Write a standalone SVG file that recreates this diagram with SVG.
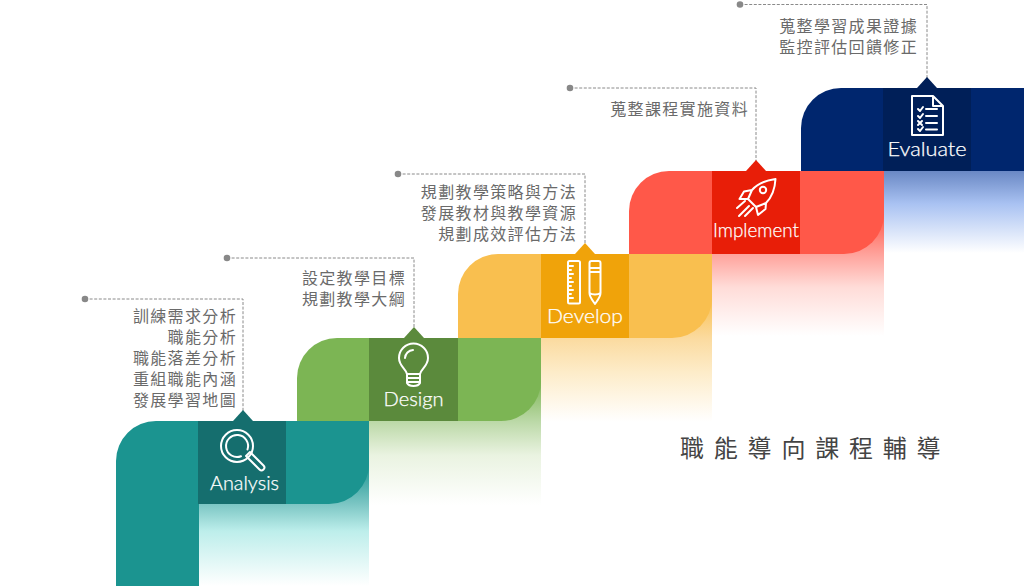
<svg xmlns="http://www.w3.org/2000/svg" width="1024" height="586" viewBox="0 0 1024 586">
<style>
.t{font-family:"Noto Sans CJK TC","Noto Sans CJK SC",sans-serif;font-size:16px;font-weight:400;letter-spacing:1.35px;fill:#6a6a6a;text-anchor:end}
.l{font-family:"Lato","Open Sans",sans-serif;font-size:19px;font-weight:300;fill:#fff;stroke:#fff;stroke-width:.25;text-anchor:middle}
.d{fill:none;stroke:#8a8a8a;stroke-width:1;stroke-dasharray:3 1.6}
.i{fill:none;stroke:#fff;stroke-width:2;stroke-linecap:round;stroke-linejoin:round}
.title{font-family:"Noto Sans CJK TC","Noto Sans CJK SC",sans-serif;font-size:24px;letter-spacing:9.8px;fill:#444}
</style>
<defs>
<linearGradient id="gt" x1="0" y1="0" x2="0" y2="1"><stop offset="0" stop-color="#1b9490"/><stop offset=".33" stop-color="#7cc6c4"/><stop offset=".55" stop-color="#bdeeeb"/><stop offset="1" stop-color="#fff"/></linearGradient>
<linearGradient id="gg" x1="0" y1="0" x2="0" y2="1"><stop offset="0" stop-color="#7cb554"/><stop offset=".33" stop-color="#bcd9a8"/><stop offset=".6" stop-color="#eaf3e1"/><stop offset="1" stop-color="#fff"/></linearGradient>
<linearGradient id="gy" x1="0" y1="0" x2="0" y2="1"><stop offset="0" stop-color="#f9bf4f"/><stop offset=".33" stop-color="#fbdba0"/><stop offset=".6" stop-color="#fdecc9"/><stop offset="1" stop-color="#fff"/></linearGradient>
<linearGradient id="gr" x1="0" y1="0" x2="0" y2="1"><stop offset="0" stop-color="#ff5849"/><stop offset=".33" stop-color="#ffa29b"/><stop offset=".6" stop-color="#ffdcd8"/><stop offset="1" stop-color="#fff"/></linearGradient>
<linearGradient id="gb" x1="0" y1="0" x2="0" y2="1"><stop offset="0" stop-color="#6a88c4"/><stop offset=".4" stop-color="#a9c2f2"/><stop offset="1" stop-color="#fff"/></linearGradient>
</defs>
<rect width="1024" height="586" fill="#fff"/>

<g id="connectors">
<path class="d" d="M85 299H243V412"/>
<path class="d" d="M227 258H414V329"/>
<path class="d" d="M398 174H585V245"/>
<path class="d" d="M570 88H756V162"/>
<path class="d" d="M740 4.500H927V79"/>
<circle cx="85" cy="299" r="3.300" fill="#888"/>
<circle cx="227" cy="258" r="3.300" fill="#888"/>
<circle cx="398" cy="174" r="3.300" fill="#888"/>
<circle cx="570" cy="88" r="3.300" fill="#888"/>
<circle cx="740" cy="4.500" r="3.300" fill="#888"/>
</g>

<g id="fades">
<rect x="199" y="464" width="170" height="122" fill="url(#gt)"/>
<rect x="369" y="381" width="172" height="124" fill="url(#gg)"/>
<rect x="541" y="298" width="171" height="124" fill="url(#gy)"/>
<rect x="712" y="214" width="172" height="122" fill="url(#gr)"/>
<rect x="884" y="171" width="140" height="82" fill="url(#gb)"/>
</g>

<g id="node-evaluate">
<path d="M841 88H1024V171H801V128A40 40 0 0 1 841 88Z" fill="#00266e"/>
<rect x="883" y="88" width="88" height="83" fill="#001f58"/>
<path d="M917 88L927 77L937 88Z" fill="#001f58"/>
<path class="i" d="M912 96H933L943 106V135H912ZM933 96V106H943"/>
<path class="i" d="M918 109L920 111L923 107M926 109H937M918 116L920 118L923 114M926 116H937M918 121L922 125M922 121L918 125M926 123H937M918 129L920 131L923 127M926 129.500H937"/>
<text class="l" x="927" y="156" textLength="79" lengthAdjust="spacingAndGlyphs">Evaluate</text>
<text class="t"><tspan x="918" y="32">蒐整學習成果證據</tspan><tspan x="918" y="53">監控評估回饋修正</tspan></text>
</g>

<g id="node-implement">
<path d="M669 171H884V214A40 40 0 0 1 844 254H629V211A40 40 0 0 1 669 171Z" fill="#ff5849"/>
<rect x="712" y="171" width="88" height="83" fill="#e81e08"/>
<path d="M746 171L756 160L766 171Z" fill="#e81e08"/>
<path class="i" d="M775.500 179C768 180 758 183 752 190L748 199L756 207L766 203C772 197 775 188 775.500 179ZM752 190L744 191.500L739.500 199L748 199M766 203L765.500 209L758 215L756 207"/>
<circle class="i" cx="763" cy="190" r="3.200"/>
<path class="i" d="M737 208L745 201M739 216L749 206M745 216L753 208"/>
<text class="l" x="756" y="237" textLength="86" lengthAdjust="spacingAndGlyphs">Implement</text>
<text class="t" x="749" y="115">蒐整課程實施資料</text>
</g>

<g id="node-develop">
<path d="M498 254H712V298A40 40 0 0 1 672 338H458V294A40 40 0 0 1 498 254Z" fill="#f9bf4f"/>
<rect x="541" y="254" width="88" height="84" fill="#f0a30a"/>
<path d="M575 254L585 243L595 254Z" fill="#f0a30a"/>
<rect class="i" x="568" y="261" width="12" height="42.500" rx="1.500"/>
<path class="i" stroke-width="1.300" d="M568 266H573M568 270H571M568 274H573M568 278H571M568 282H573M568 286H571M568 290H573M568 294H571M568 298H573"/>
<path class="i" d="M589.500 263A2 2 0 0 1 591.500 261H598.500A2 2 0 0 1 600.500 263V293C600.500 297 597 301 595 304C593 301 589.500 297 589.500 293ZM589.500 268H600.500M589.500 272H600.500M589.500 293C592 295 598 295 600.500 293"/>
<text class="l" x="585" y="323" textLength="76" lengthAdjust="spacingAndGlyphs">Develop</text>
<text class="t"><tspan x="577" y="198">規劃教學策略與方法</tspan><tspan x="577" y="219">發展教材與教學資源</tspan><tspan x="577" y="240">規劃成效評估方法</tspan></text>
</g>

<g id="node-design">
<path d="M337 338H541V381A40 40 0 0 1 501 421H297V378A40 40 0 0 1 337 338Z" fill="#7cb554"/>
<rect x="369" y="338" width="89" height="83" fill="#5b8a3c"/>
<path d="M404 338L414 327L424 338Z" fill="#5b8a3c"/>
<path class="i" d="M407 383V374C406 369 399 366 399 358A14.500 14.500 0 0 1 428 358C428 366 421 369 420 374V383C418 387 409 387 407 383ZM407 374H420M408 378H419M408 382H419"/>
<path class="i" stroke-width="1.500" d="M405 358A8.500 8.500 0 0 1 413 350"/>
<text class="l" x="413.500" y="406" textLength="60" lengthAdjust="spacingAndGlyphs">Design</text>
<text class="t"><tspan x="406" y="284">設定教學目標</tspan><tspan x="406" y="305">規劃教學大綱</tspan></text>
</g>

<g id="node-analysis">
<path d="M156 421H369V464A40 40 0 0 1 329 504H199V586H116V461A40 40 0 0 1 156 421Z" fill="#1b9490"/>
<rect x="198" y="421" width="88" height="83" fill="#156e6e"/>
<path d="M233 421L243 410L253 421Z" fill="#156e6e"/>
<circle class="i" cx="237" cy="446" r="16"/>
<path class="i" stroke-width="1.600" d="M247.500 449.500A11 11 0 1 0 241 456.300"/>
<path class="i" d="M246 456L250 452L263.500 465.500A2.800 2.800 0 0 1 259.500 469.500Z"/>
<text class="l" x="244.500" y="490" textLength="69" lengthAdjust="spacingAndGlyphs">Analysis</text>
<text class="t"><tspan x="237" y="322">訓練需求分析</tspan><tspan x="237" y="343">職能分析</tspan><tspan x="237" y="364">職能落差分析</tspan><tspan x="237" y="385">重組職能內涵</tspan><tspan x="237" y="406">發展學習地圖</tspan></text>
</g>

<text class="title" x="680" y="457">職能導向課程輔導</text>
</svg>
